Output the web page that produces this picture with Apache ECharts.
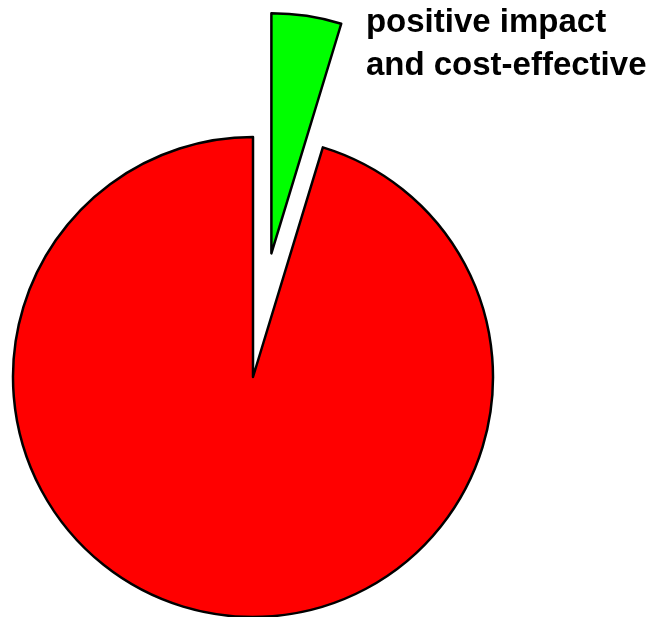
<!DOCTYPE html>
<html>
<head>
<meta charset="utf-8">
<script src="https://cdn.jsdelivr.net/npm/echarts@6/dist/echarts.min.js"></script>
<style>html,body{margin:0;padding:0;background:#fff}#c{width:660px;height:617px}</style>
</head>
<body>
<div id="c"></div>
<script>
const categories = ['positive impact\nand cost-effective', 'other'];
const values = [4.7, 95.3];
const colors = ['#00FF00', '#FF0000'];
const exploded = [true, false];
const showLabel = [true, false];

const chart = echarts.init(document.getElementById('c'), null, {renderer: 'canvas'});
chart.setOption({
  animation: false,
  backgroundColor: '#ffffff',
  series: [{
    type: 'pie',
    center: [253, 377],
    radius: [0, 240],
    startAngle: 90,
    clockwise: true,
    selectedMode: 'multiple',
    selectedOffset: 125,
    avoidLabelOverlap: false,
    itemStyle: {borderColor: '#000', borderWidth: 2.5, borderJoin: 'round'},
    emphasis: {disabled: true},
    select: {itemStyle: {borderColor: '#000', borderWidth: 2.5}},
    labelLine: {show: false},
    data: categories.map((c, i) => ({
      name: c,
      value: values[i],
      selected: exploded[i],
      itemStyle: {color: colors[i]},
      select: {itemStyle: {color: colors[i]}},
      label: {
        show: showLabel[i],
        position: 'outside',
        formatter: '{b}',
        color: '#000',
        fontFamily: 'Liberation Sans, Arial, sans-serif',
        fontWeight: 'bold',
        fontSize: 33,
        lineHeight: 43,
        align: 'left',
        padding: [0, 0, 0, 22]
      }
    })),
    labelLayout: function (p) {
      if (p.dataIndex === 0) {
        return {y: 0, verticalAlign: 'top', draggable: false};
      }
      return {};
    }
  }]
});
</script>
</body>
</html>
